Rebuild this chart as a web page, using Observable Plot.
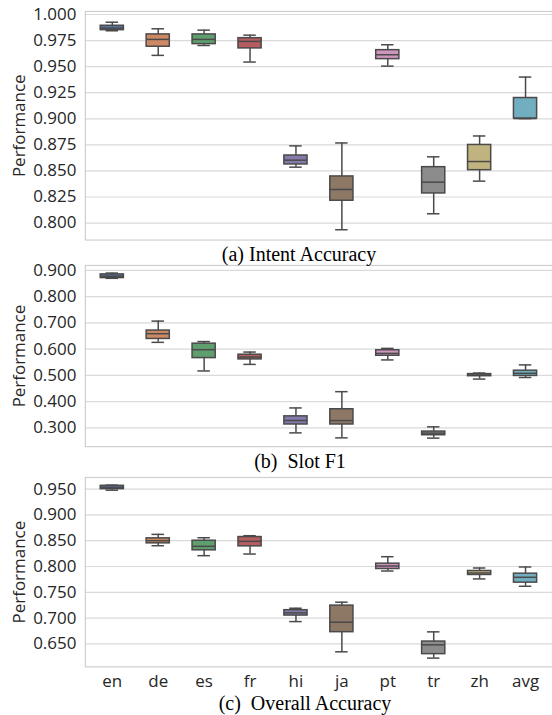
<!DOCTYPE html>
<html><head><meta charset="utf-8">
<script src="https://cdn.jsdelivr.net/npm/d3@7"></script>
<script src="https://cdn.jsdelivr.net/npm/@observablehq/plot@0.6"></script>
<style>
html,body{margin:0;padding:0;background:#fff;overflow:hidden;}
#root{position:relative;width:552px;height:715px;overflow:hidden;}
.panel{position:absolute;left:0;overflow:visible;}
.cap{position:absolute;left:0;width:600px;text-align:center;font-family:"Liberation Serif","Times New Roman",serif;font-size:20px;line-height:20px;color:#000;white-space:pre;}
</style></head><body><div id="root"></div><script>
const langs = ["en","de","es","fr","hi","ja","pt","tr","zh","avg"];
const colors = ["#5975a4","#cc8963","#5f9e6e","#b55d60","#857aab","#8d7866","#d095bf","#8c8c8c","#c1b37f","#71aec0"];

// (a) Intent Accuracy
const intentMin = [0.9844,0.9608,0.9703,0.9544,0.8536,0.7936,0.9505,0.8089,0.8402,0.9002];
const intentQ1  = [0.9850,0.9691,0.9716,0.9675,0.8562,0.8214,0.9572,0.8284,0.8507,0.9002];
const intentMed = [0.9870,0.9761,0.9761,0.9742,0.8603,0.8322,0.9614,0.8392,0.8590,0.9002];
const intentQ3  = [0.9892,0.9809,0.9809,0.9773,0.8648,0.8447,0.9658,0.8536,0.8749,0.9199];
const intentMax = [0.9926,0.9863,0.9850,0.9802,0.8740,0.8768,0.9710,0.8635,0.8835,0.9400];
const intentTicks = [0.800,0.825,0.850,0.875,0.900,0.925,0.950,0.975,1.000];

// (b) Slot F1
const slotMin = [0.870,0.626,0.517,0.542,0.281,0.262,0.559,0.261,0.486,0.492];
const slotQ1  = [0.871,0.639,0.566,0.561,0.313,0.313,0.575,0.272,0.497,0.498];
const slotMed = [0.878,0.659,0.598,0.570,0.328,0.328,0.584,0.280,0.502,0.508];
const slotQ3  = [0.885,0.671,0.621,0.579,0.344,0.371,0.596,0.286,0.505,0.518];
const slotMax = [0.890,0.707,0.629,0.589,0.376,0.438,0.603,0.304,0.509,0.540];
const slotTicks = [0.3,0.4,0.5,0.6,0.7,0.8,0.9];

// (c) Overall Accuracy
const overallMin = [0.948,0.8403,0.8210,0.8242,0.6932,0.6346,0.7913,0.6224,0.7759,0.7617];
const overallQ1  = [0.950,0.8449,0.8314,0.8391,0.7049,0.6727,0.7952,0.6301,0.7836,0.7687];
const overallMed = [0.9533,0.8500,0.8391,0.8488,0.7101,0.6920,0.8010,0.6481,0.7874,0.7791];
const overallQ3  = [0.9564,0.8546,0.8500,0.8571,0.7153,0.7242,0.8055,0.6545,0.7913,0.7861];
const overallMax = [0.9577,0.8623,0.8558,0.8597,0.7191,0.7308,0.8190,0.6733,0.7971,0.7991];
const overallTicks = [0.65,0.70,0.75,0.80,0.85,0.90,0.95];

const root = document.getElementById("root");
const edge = "#4a4a4a";

function panel({min,q1,med,q3,max,ticks,domain,frameTop,frameBottom,showX}) {
  const data = langs.map((l,i)=>({lang:l,min:min[i],q1:q1[i],med:med[i],q3:q3[i],max:max[i]}));
  const mt = 11, mb = showX ? 34 : 2;
  const height = (frameBottom - frameTop) + mt + mb;
  const W = 553, ML = 85;
  const step = (W - ML) / langs.length;
  const boxInset = (step - 24) / 2;
  const capInset = (step - 13.3) / 2;
  const svg = Plot.plot({
    width: W, height, marginLeft: ML, marginRight: 0, marginTop: mt, marginBottom: mb,
    style: {fontFamily: "'Open Sans', sans-serif", fontSize: "17px", color: "#262626", background: "transparent", overflow: "visible"},
    x: {type: "band", domain: langs, padding: 0, axis: showX ? "bottom" : null, tickSize: 0, tickPadding: 8, label: null},
    y: {domain, ticks, tickFormat: d3.format(".3f"), tickSize: 0, tickPadding: 9,
        label: "Performance", labelAnchor: "center", labelOffset: 73, labelArrow: "none"},
    color: {type: "ordinal", domain: langs, range: colors},
    marks: [
      Plot.ruleY(ticks, {stroke: "#dadada", strokeWidth: 1.2}),
      Plot.frame({stroke: "#cfcfcf", strokeWidth: 1.2}),
      Plot.ruleX(data, {x: "lang", y1: "min", y2: "max", stroke: edge, strokeWidth: 1.5}),
      Plot.tickY(data, {x: "lang", y: "min", stroke: edge, strokeWidth: 1.5, insetLeft: capInset, insetRight: capInset}),
      Plot.tickY(data, {x: "lang", y: "max", stroke: edge, strokeWidth: 1.5, insetLeft: capInset, insetRight: capInset}),
      Plot.barY(data, {x: "lang", y1: "q1", y2: "q3", fill: "lang", stroke: edge, strokeWidth: 1.5, insetLeft: boxInset, insetRight: boxInset}),
      Plot.tickY(data, {x: "lang", y: "med", stroke: edge, strokeWidth: 1.5, insetLeft: boxInset, insetRight: boxInset})
    ]
  });
  svg.classList.add("panel");
  svg.style.top = (frameTop - mt) + "px";
  root.appendChild(svg);
}

function caption(text, top, left) {
  const d = document.createElement("div");
  d.className = "cap";
  d.textContent = text;
  d.style.top = top + "px";
  d.style.left = left + "px";
  root.appendChild(d);
}

panel({min: intentMin, q1: intentQ1, med: intentMed, q3: intentQ3, max: intentMax,
  ticks: intentTicks, domain: [0.7837, 1.0029], frameTop: 11, frameBottom: 240, showX: false});
panel({min: slotMin, q1: slotQ1, med: slotMed, q3: slotQ3, max: slotMax,
  ticks: slotTicks, domain: [0.2285, 0.919], frameTop: 265, frameBottom: 446.5, showX: false});
panel({min: overallMin, q1: overallQ1, med: overallMed, q3: overallQ3, max: overallMax,
  ticks: overallTicks, domain: [0.6055, 0.9726], frameTop: 477.3, frameBottom: 667, showX: true});

caption("(a) Intent Accuracy", 244, -1);
caption("(b)  Slot F1", 451, 0);
caption("(c)  Overall Accuracy", 693, 5);
</script></body></html>
